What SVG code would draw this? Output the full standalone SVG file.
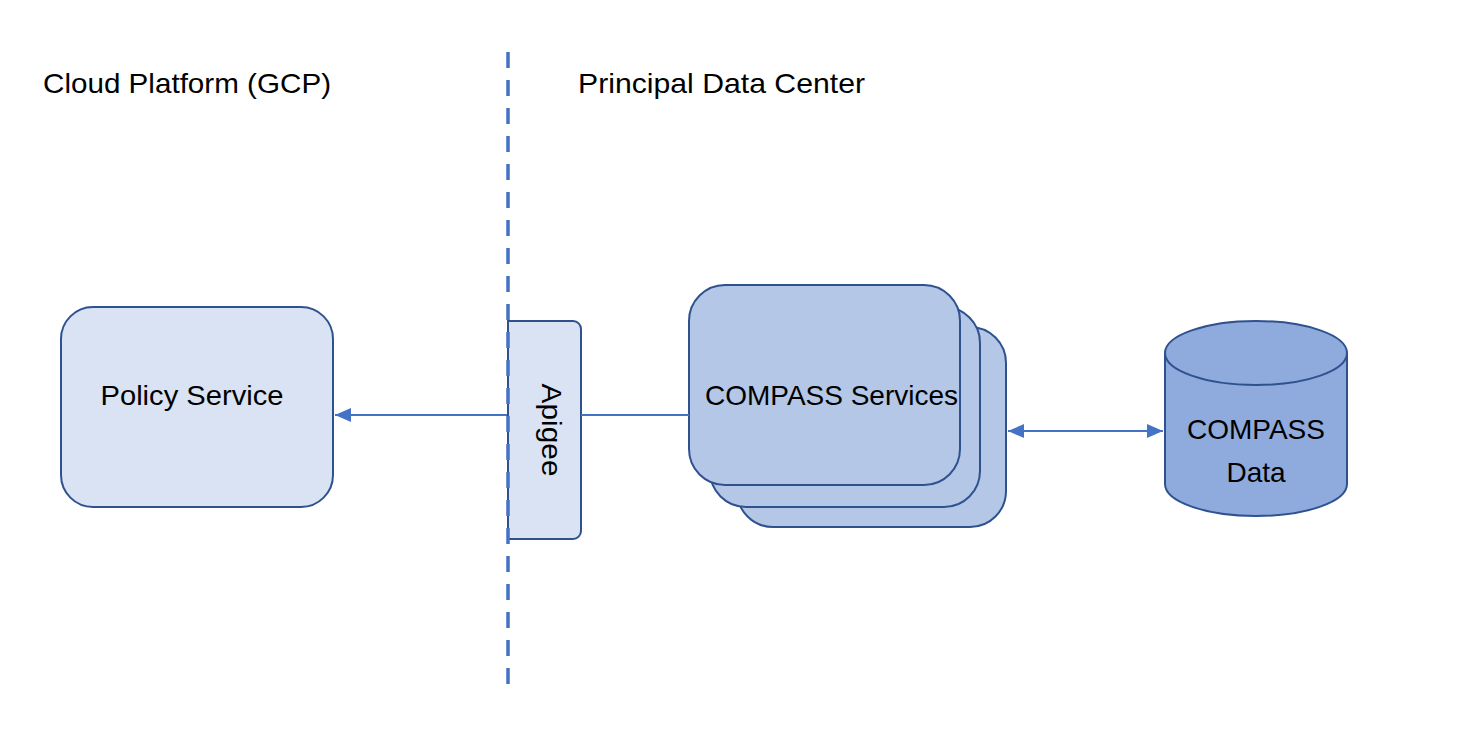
<svg xmlns="http://www.w3.org/2000/svg" width="1460" height="748" viewBox="0 0 1460 748">
  <defs>
    <style>
      .lbl { font-family: "Liberation Sans", Arial, sans-serif; font-size: 28px; fill: #000; }
      .light { fill: #DAE3F3; stroke: #2F528F; stroke-width: 2; }
      .mid { fill: #B4C7E7; stroke: #2F528F; stroke-width: 2; }
      .db { fill: #8FAADC; stroke: #2F528F; stroke-width: 2; }
      .conn { fill: none; stroke: #4472C4; stroke-width: 2; }
    </style>
    <marker id="arr" viewBox="0 0 16 14" refX="16" refY="7" markerWidth="16" markerHeight="14" markerUnits="userSpaceOnUse" orient="auto-start-reverse">
      <path d="M0,0 L16,7 L0,14 Z" fill="#4472C4"/>
    </marker>
  </defs>
  <rect width="1460" height="748" fill="#fff"/>

  <g id="title-cloud">
    <text class="lbl" x="43" y="93" textLength="288" lengthAdjust="spacingAndGlyphs">Cloud Platform (GCP)</text>
  </g>
  <g id="title-dc">
    <text class="lbl" x="578" y="93" textLength="287" lengthAdjust="spacingAndGlyphs">Principal Data Center</text>
  </g>

  <g id="policy-service">
    <rect class="light" x="61" y="307" width="272" height="200" rx="32" ry="32"/>
    <text class="lbl" x="192" y="405" text-anchor="middle" textLength="183" lengthAdjust="spacingAndGlyphs">Policy Service</text>
  </g>

  <g id="apigee">
    <path class="light" d="M508,321 H573 A8,8 0 0 1 581,329 V531 A8,8 0 0 1 573,539 H508 Z"/>
    <text class="lbl" transform="translate(542,430) rotate(90)" text-anchor="middle" textLength="93" lengthAdjust="spacingAndGlyphs">Apigee</text>
  </g>

  <g id="boundary">
    <line x1="508" y1="52" x2="508" y2="686" stroke="#4472C4" stroke-width="3.5" stroke-dasharray="16 12"/>
  </g>

  <g id="compass-services">
    <rect class="mid" x="737" y="327" width="269" height="200" rx="36" ry="36"/>
    <rect class="mid" x="710" y="307" width="270" height="200" rx="36" ry="36"/>
    <rect class="mid" x="689" y="285" width="271" height="200" rx="36" ry="36"/>
    <text class="lbl" x="705" y="405" textLength="253" lengthAdjust="spacingAndGlyphs">COMPASS Services</text>
  </g>

  <g id="compass-data">
    <path class="db" d="M1165,353 L1165,484 A91,32 0 0 0 1347,484 L1347,353 A91,32 0 0 0 1165,353 Z"/>
    <path class="db" d="M1165,353 A91,32 0 0 0 1347,353" fill="none"/>
    <text class="lbl" x="1256" y="439" text-anchor="middle">COMPASS</text>
    <text class="lbl" x="1256" y="482" text-anchor="middle">Data</text>
  </g>

  <g id="connectors">
    <line class="conn" x1="507" y1="415" x2="335" y2="415" marker-end="url(#arr)"/>
    <line class="conn" x1="581" y1="415" x2="689" y2="415"/>
    <line class="conn" x1="1008" y1="431" x2="1163" y2="431" marker-start="url(#arr)" marker-end="url(#arr)"/>
  </g>
</svg>
